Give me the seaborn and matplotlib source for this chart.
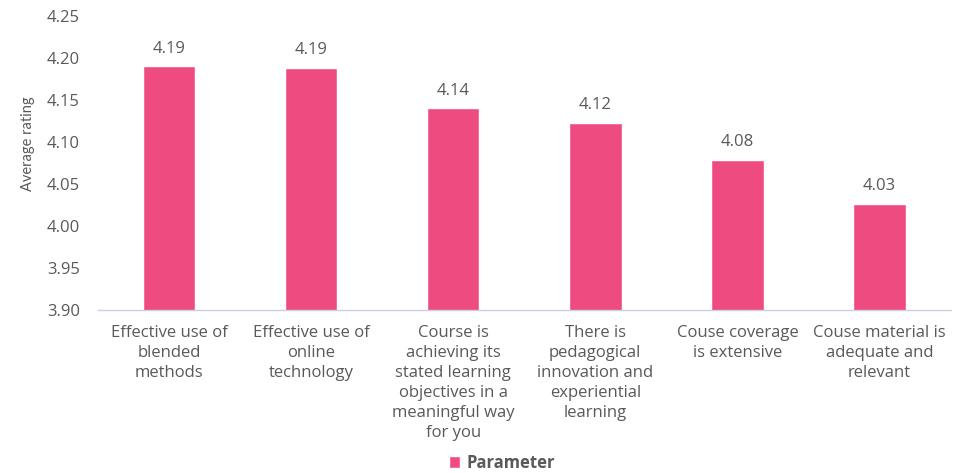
import matplotlib
matplotlib.use('Agg')
import matplotlib.pyplot as plt
import seaborn as sns

# data
categories = [
    'Effective use of\nblended\nmethods',
    'Effective use of\nonline\ntechnology',
    'Course is\nachieving its\nstated learning\nobjectives in a\nmeaningful way\nfor you',
    'There is\npedagogical\ninnovation and\nexperiential\nlearning',
    'Couse coverage\nis extensive',
    'Couse material is\nadequate and\nrelevant',
]
ratings = [4.19, 4.188, 4.14, 4.123, 4.079, 4.026]
y_ticks = [3.90, 3.95, 4.00, 4.05, 4.10, 4.15, 4.20, 4.25]

sns.set_theme(style='white')
plt.rcParams['font.family'] = ['Open Sans', 'DejaVu Sans']

bar_color = '#EE4C80'
text_color = '#595959'

fig = plt.figure(figsize=(9.69, 4.73), dpi=100)
ax = fig.add_axes([0.101, 0.345, 0.880, 0.621])

sns.barplot(x=categories, y=ratings, color=bar_color, width=0.37,
            saturation=1, label='Parameter', ax=ax)
if ax.get_legend() is not None:
    ax.get_legend().remove()

ax.set_ylim(3.90, 4.25)
ax.set_yticks(y_ticks)
ax.set_yticklabels([f'{t:.2f}' for t in y_ticks], color=text_color, fontsize=12)
ax.tick_params(axis='x', colors=text_color, labelsize=12, length=0, pad=11)
ax.tick_params(axis='y', length=0, pad=13)
for lbl in ax.get_xticklabels():
    lbl.set_linespacing(1.33)

ax.set_ylabel('Average rating', color=text_color, fontsize=10.5, family='Lato')
ax.yaxis.set_label_coords(-0.074, 0.565)
ax.set_xlabel('')

for side in ['top', 'right', 'left']:
    ax.spines[side].set_visible(False)
ax.spines['bottom'].set_color('#C9D0E0')
ax.spines['bottom'].set_linewidth(1)

ax.bar_label(ax.containers[0], labels=[f'{v:.2f}' for v in ratings],
             padding=7, color=text_color, fontsize=12)

fig.legend(loc='center', bbox_to_anchor=(0.518, 0.022), frameon=False,
           handlelength=0.7, handleheight=0.7, handletextpad=0.4,
           prop={'weight': 'bold', 'size': 12}, labelcolor=text_color)

fig.savefig('out.png', dpi=100, facecolor='white')
